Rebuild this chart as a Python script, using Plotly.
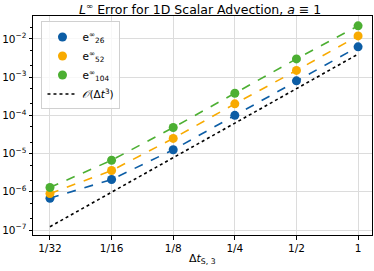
import plotly.graph_objects as go

dt = [1/32, 1/16, 1/8, 1/4, 1/2, 1]
dt_labels = ["1/32", "1/16", "1/8", "1/4", "1/2", "1"]
e26 = [6.8e-7, 2.1e-6, 1.26e-5, 1.0e-4, 8.0e-4, 6.2e-3]
e52 = [9.0e-7, 3.6e-6, 2.5e-5, 2.0e-4, 1.5e-3, 1.2e-2]
e104 = [1.3e-6, 6.7e-6, 4.8e-5, 3.8e-4, 3.0e-3, 2.2e-2]
ref_const = 4.0e-3
ref = [ref_const * d**3 for d in dt]
y_ticks = [1e-7, 1e-6, 1e-5, 1e-4, 1e-3, 1e-2]
y_labels = ["10<sup>−7</sup>", "10<sup>−6</sup>", "10<sup>−5</sup>", "10<sup>−4</sup>", "10<sup>−3</sup>", "10<sup>−2</sup>"]

series = [
    ("e<sup>∞</sup><sub>26</sub>", e26, "#0C5DA5"),
    ("e<sup>∞</sup><sub>52</sub>", e52, "#F8AA00"),
    ("e<sup>∞</sup><sub>104</sub>", e104, "#4CAF32"),
]

fig = go.Figure()
for name, vals, col in series:
    fig.add_trace(go.Scatter(x=dt, y=vals, mode="lines", line=dict(color=col, width=1.6, dash="dash"),
                             showlegend=False, hoverinfo="skip", cliponaxis=False))
for name, vals, col in series:
    fig.add_trace(go.Scatter(x=dt, y=vals, mode="markers", name=name, cliponaxis=False,
                             marker=dict(color=col, size=9, line=dict(width=0))))
fig.add_trace(go.Scatter(x=dt, y=ref, mode="lines", name="<i>𝒪</i>(Δ<i>t</i><sup>3</sup>)",
                         line=dict(color="black", width=1.6, dash="dot")))

font = "DejaVu Sans, sans-serif"
fig.update_layout(
    width=374, height=271,
    margin=dict(l=33, r=2, t=16, b=36),
    paper_bgcolor="white", plot_bgcolor="white",
    font=dict(family=font, size=10.5, color="black"),
    title=dict(text="<i>L</i><sup>∞</sup> Error for 1D Scalar Advection, <i>a</i> ≡ 1",
               x=0.535, xanchor="center", yref="container", y=1 - 9.5 / 271, yanchor="middle",
               font=dict(size=12.5)),
    legend=dict(x=0.025, y=0.975, xanchor="left", yanchor="top", bgcolor="rgba(255,255,255,0.8)",
                bordercolor="#d0d0d0", borderwidth=1, font=dict(size=10.5), itemwidth=30,
                tracegroupgap=0),
    annotations=[dict(text="Δ<i>t</i><sub>S, 3</sub>", xref="paper", yref="paper", x=0.5, y=-0.07,
                      xanchor="center", yanchor="top", showarrow=False, font=dict(size=11))],
)
fig.update_xaxes(type="log", range=[-1.588, 0.068], tickvals=dt, ticktext=dt_labels, automargin=False,
                 showline=True, linecolor="black", linewidth=1, mirror=True,
                 ticks="outside", ticklen=3.5, tickcolor="black", tickfont=dict(size=10.5),
                 showgrid=True, gridcolor="#dcdcdc", gridwidth=1, zeroline=False)
fig.update_yaxes(type="log", range=[-7.13, -1.4], tickvals=y_ticks, ticktext=y_labels, automargin=False,
                 showline=True, linecolor="black", linewidth=1, mirror=True,
                 ticks="outside", ticklen=3.5, tickcolor="black", tickfont=dict(size=10.5),
                 showgrid=True, gridcolor="#dcdcdc", gridwidth=1, zeroline=False,
                 minor=dict(ticks="outside", ticklen=2, tickcolor="black", showgrid=False))
fig.write_html("out.html", config={"displayModeBar": False},
               post_script="document.body.style.margin='0';document.body.style.overflow='hidden';")
